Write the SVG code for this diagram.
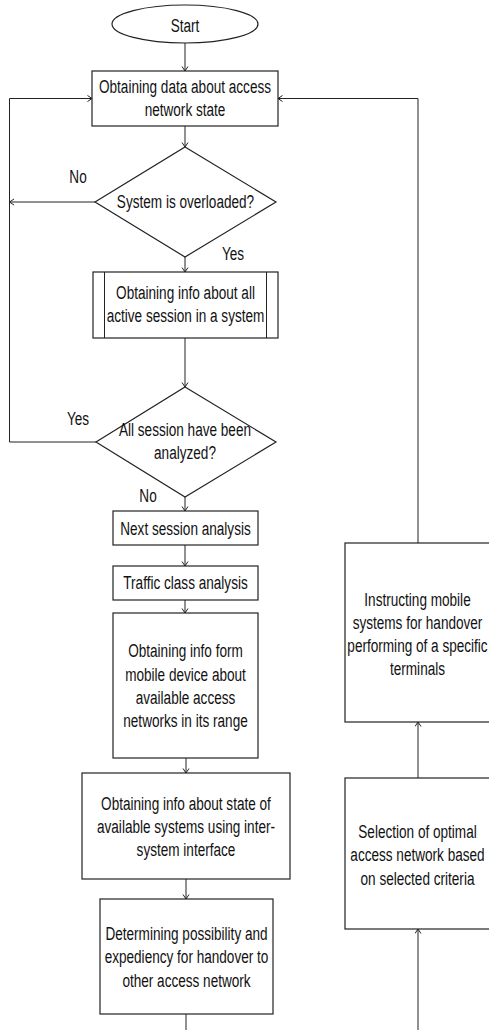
<svg xmlns="http://www.w3.org/2000/svg" width="489" height="1030" viewBox="0 0 489 1030">
<defs>
<marker id="arr" markerWidth="8" markerHeight="8" refX="5" refY="3.5" orient="auto" markerUnits="userSpaceOnUse">
<path d="M0.5,0.5 L5,3.5 L0.5,6.5" fill="none" stroke="#222" stroke-width="1"/>
</marker>
</defs>
<style>
.s{fill:#fff;stroke:#222;stroke-width:1.2}
.c{fill:none;stroke:#222;stroke-width:1}
.t{font-family:"Liberation Sans",Arial,sans-serif;font-size:19px;fill:#111;text-anchor:middle}
</style>
<rect width="489" height="1030" fill="#fff"/>
<g id="connectors">
<path class="c" d="M185,43 V71" marker-end="url(#arr)"/>
<path class="c" d="M185,126 V147" marker-end="url(#arr)"/>
<path class="c" d="M185,257 V272" marker-end="url(#arr)"/>
<path class="c" d="M185,338 V387" marker-end="url(#arr)"/>
<path class="c" d="M185,497 V511" marker-end="url(#arr)"/>
<path class="c" d="M185,545 V566" marker-end="url(#arr)"/>
<path class="c" d="M185,600 V613" marker-end="url(#arr)"/>
<path class="c" d="M186,758 V773" marker-end="url(#arr)"/>
<path class="c" d="M186,879 V899" marker-end="url(#arr)"/>
<path class="c" d="M186,1014 V1030"/>
<path class="c" d="M95,202 H9.5" marker-end="url(#arr)"/>
<path class="c" d="M96,442 H9.5 V98.5 H92" marker-end="url(#arr)"/>
<path class="c" d="M418,543 V98.5 H278" marker-end="url(#arr)"/>
<path class="c" d="M418,778 V722" marker-end="url(#arr)"/>
<path class="c" d="M418,1030 V929" marker-end="url(#arr)"/>
<text class="t" transform="translate(78 0) scale(0.715 1)" x="0" y="183">No</text>
<text class="t" transform="translate(233 0) scale(0.715 1)" x="0" y="260">Yes</text>
<text class="t" transform="translate(78 0) scale(0.715 1)" x="0" y="425">Yes</text>
<text class="t" transform="translate(148 0) scale(0.715 1)" x="0" y="502">No</text>
</g>
<g id="start">
<ellipse class="s" cx="185" cy="24" rx="73" ry="19"/>
<text class="t" transform="translate(185 0) scale(0.715 1)" x="0" y="32">Start</text>
</g>
<g id="obtain-data">
<rect class="s" x="92" y="71" width="186" height="55"/>
<text class="t" transform="translate(185 0) scale(0.715 1)"><tspan x="0" y="93.5">Obtaining data about access</tspan><tspan x="0" y="116.5">network state</tspan></text>
</g>
<g id="overloaded">
<polygon class="s" points="185,147 276,202 185,257 95,202"/>
<text class="t" transform="translate(185.5 0) scale(0.715 1)" x="0" y="208.5">System is overloaded?</text>
</g>
<g id="active-sessions">
<rect class="s" x="93" y="272" width="185" height="66"/>
<path class="c" d="M104.5,272 V338 M266.5,272 V338" stroke-width="1.2"/>
<text class="t" transform="translate(185.5 0) scale(0.715 1)"><tspan x="0" y="299">Obtaining info about all</tspan><tspan x="0" y="322">active session in a system</tspan></text>
</g>
<g id="all-analyzed">
<polygon class="s" points="185,387 276,442 185,497 96,442"/>
<text class="t" transform="translate(185 0) scale(0.715 1)"><tspan x="0" y="436.5">All session have been</tspan><tspan x="0" y="459">analyzed?</tspan></text>
</g>
<g id="next-session">
<rect class="s" x="113" y="511" width="145" height="34"/>
<text class="t" transform="translate(185.5 0) scale(0.715 1)" x="0" y="535">Next session analysis</text>
</g>
<g id="traffic-class">
<rect class="s" x="113" y="566" width="145" height="34"/>
<text class="t" transform="translate(185.5 0) scale(0.715 1)" x="0" y="589">Traffic class analysis</text>
</g>
<g id="mobile-info">
<rect class="s" x="113" y="613" width="145" height="145"/>
<text class="t" transform="translate(185.5 0) scale(0.715 1)"><tspan x="0" y="657">Obtaining info form</tspan><tspan x="0" y="680.5">mobile device about</tspan><tspan x="0" y="704">available access</tspan><tspan x="0" y="727.5">networks in its range</tspan></text>
</g>
<g id="systems-state">
<rect class="s" x="82" y="773" width="208" height="106"/>
<text class="t" transform="translate(186 0) scale(0.715 1)"><tspan x="0" y="810">Obtaining info about state of</tspan><tspan x="0" y="833">available systems using inter-</tspan><tspan x="0" y="856">system interface</tspan></text>
</g>
<g id="determining">
<rect class="s" x="100" y="899" width="173" height="115"/>
<text class="t" transform="translate(186.5 0) scale(0.715 1)"><tspan x="0" y="940">Determining possibility and</tspan><tspan x="0" y="963.5">expediency for handover to</tspan><tspan x="0" y="987">other access network</tspan></text>
</g>
<g id="instructing">
<rect class="s" x="345" y="543" width="150" height="179"/>
<text class="t" transform="translate(417.5 0) scale(0.715 1)"><tspan x="0" y="606">Instructing mobile</tspan><tspan x="0" y="629.5">systems for handover</tspan><tspan x="0" y="652.5">performing of a specific</tspan><tspan x="0" y="675.5">terminals</tspan></text>
</g>
<g id="selection">
<rect class="s" x="345" y="778" width="150" height="151"/>
<text class="t" transform="translate(417.5 0) scale(0.715 1)"><tspan x="0" y="838">Selection of optimal</tspan><tspan x="0" y="861.5">access network based</tspan><tspan x="0" y="885">on selected criteria</tspan></text>
</g>
</svg>
